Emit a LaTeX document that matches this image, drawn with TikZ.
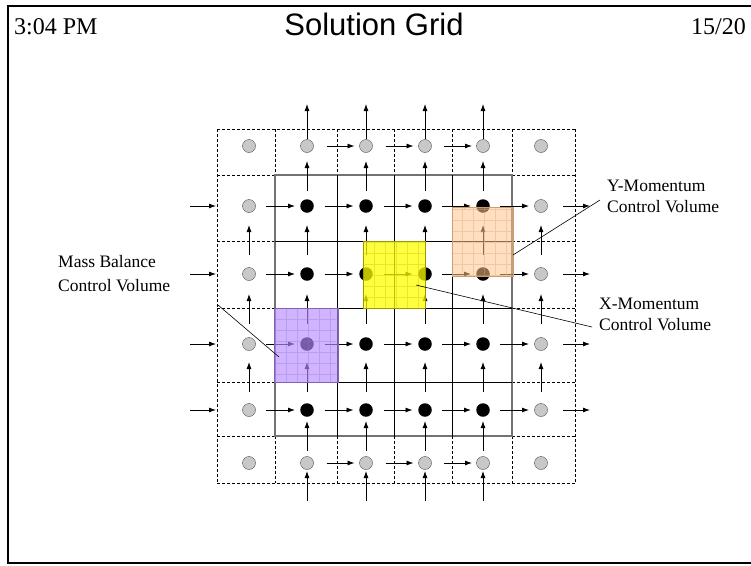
\documentclass[tikz,border=0pt]{standalone}
\usepackage{fontspec}
\setmainfont{Liberation Serif}
\setsansfont{Liberation Sans}
\usetikzlibrary{arrows.meta}

\definecolor{ghostfill}{RGB}{200,200,200}
\definecolor{massvol}{RGB}{185,140,255}
\definecolor{xmomvol}{RGB}{255,255,0}
\definecolor{ymomvol}{RGB}{255,196,140}

\tikzset{
  ghostnode/.style={circle, draw=black!70, fill=ghostfill, minimum size=13pt, inner sep=0pt},
  cellnode/.style={circle, fill=black, minimum size=13.5pt, inner sep=0pt},
  ghostline/.style={line width=0.8pt, dash pattern=on 3pt off 2pt},
  gridline/.style={line width=0.9pt},
  flow/.style={->, line width=0.85pt},
  cvlabel/.style={font=\fontsize{17.5}{21}\selectfont, align=left, inner sep=0pt, anchor=west},
}

\begin{document}
\begin{tikzpicture}[x=1pt, y=-1pt, >={Latex[length=7pt,width=5pt]}]
	\useasboundingbox (0,0) rectangle (751,565);
	\draw[line width=2pt] (8,6) rectangle (775,563);
	% header
	\node[font=\fontsize{24}{24}\selectfont, anchor=base west, inner sep=0pt] (clock) at (14,34) {3:04 PM};
	\node[font=\sffamily\fontsize{31}{31}\selectfont, anchor=base, inner sep=0pt] (title) at (374,35) {Solution Grid};
	\node[font=\fontsize{24}{24}\selectfont, anchor=base east, inner sep=0pt] (page) at (746,34) {15/20};
	% boundary (ghost) cells
	\draw[ghostline] (217,129) -- (575,129);
	\draw[ghostline] (217,483) -- (575,483);
	\draw[ghostline] (217,129) -- (217,483);
	\draw[ghostline] (575,129) -- (575,483);
	\foreach \gx in {275,337,394,452,512} {
		\draw[ghostline] (\gx,129) -- (\gx,175);
		\draw[ghostline] (\gx,436) -- (\gx,483);
	}
	\foreach \gy in {175,241,308,382,436} {
		\draw[ghostline] (217,\gy) -- (275,\gy);
		\draw[ghostline] (512,\gy) -- (575,\gy);
	}
	% interior cells
	\draw[gridline, black!55, line width=1.5pt] (275,175) rectangle (512,436);
	\foreach \gx in {337,394,452} {\draw[gridline] (\gx,175) -- (\gx,438);}
	\foreach \gy in {241,308,382} {\draw[gridline] (275,\gy) -- (512,\gy);}
	% pressure nodes
	\foreach \c/\cx in {1/249,2/307,3/366,4/425,5/483,6/541} {
		\node[ghostnode] (p\c0) at (\cx,146) {};
		\node[ghostnode] (p\c5) at (\cx,463) {};
	}
	\foreach \r/\ry in {1/206,2/274,3/344,4/410} {
		\node[ghostnode] (p1\r) at (249,\ry) {};
		\node[ghostnode] (p6\r) at (541,\ry) {};
		\foreach \c/\cx in {2/307,3/366,4/425,5/483} {\node[cellnode] (p\c\r) at (\cx,\ry) {};}
	}
	% u velocities
	\foreach \ry in {206,274,344,410} {
		\draw[flow] (190,\ry) -- (216,\ry);
		\foreach \fx in {278,336.5,395.5,454,512} {\draw[flow] (\fx-12,\ry) -- (\fx+17,\ry);}
		\draw[flow] (563,\ry) -- (590,\ry);
	}
	\foreach \ry in {146,463} {
		\foreach \fx in {336.5,395.5,454} {\draw[flow] (\fx-10,\ry) -- (\fx+18,\ry);}
	}
	% v velocities
	\foreach \cx in {249,307,366,425,483,541} {
		\foreach \fy in {240,309,377} {\draw[flow] (\cx,\fy+15) -- (\cx,\fy-15);}
	}
	\foreach \cx in {307,366,425,483} {
		\draw[flow] (\cx,139) -- (\cx,104);
		\draw[flow] (\cx,191) -- (\cx,161);
		\draw[flow] (\cx,451) -- (\cx,421);
		\draw[flow] (\cx,501) -- (\cx,471);
	}
	% control volumes
	\fill[massvol, opacity=0.65] (274,308) rectangle (338,382);
	\draw[massvol!80!black, opacity=0.35, step=11pt] (274,308) grid (338,382);
	\draw[massvol!70!black, line width=0.8pt] (274,308) rectangle (338,382);
	\fill[xmomvol, opacity=0.75] (363,241) rectangle (425,308);
	\draw[xmomvol!75!black, opacity=0.35, step=11pt] (363,241) grid (425,308);
	\draw[xmomvol!60!black, line width=0.8pt] (363,241) rectangle (425,308);
	\fill[ymomvol, opacity=0.55] (452,207) rectangle (513,276);
	\draw[ymomvol!85!black, opacity=0.4, step=11pt] (452,207) grid (513,276);
	\draw[ymomvol!80!black, line width=0.6pt] (452,207) rectangle (513,276);
	% labels
	\node[cvlabel] (masslab) at (58,274) {Mass Balance\\[3pt]Control Volume};
	\node[cvlabel] (ymomlab) at (607,196) {Y-Momentum\\Control Volume};
	\node[cvlabel] (xmomlab) at (599,314) {X-Momentum\\Control Volume};
	\coordinate (massend) at (218,305);
	\coordinate (masstip) at (279,357);
	\coordinate (ymomend) at (600,200);
	\coordinate (ymomtip) at (513,255);
	\coordinate (xmomend) at (592,327);
	\coordinate (xmomtip) at (416,285);
	\draw[line width=0.6pt] (massend) -- (masstip);
	\draw[line width=0.6pt] (ymomend) -- (ymomtip);
	\draw[line width=0.6pt] (xmomend) -- (xmomtip);
\end{tikzpicture}
\end{document}
